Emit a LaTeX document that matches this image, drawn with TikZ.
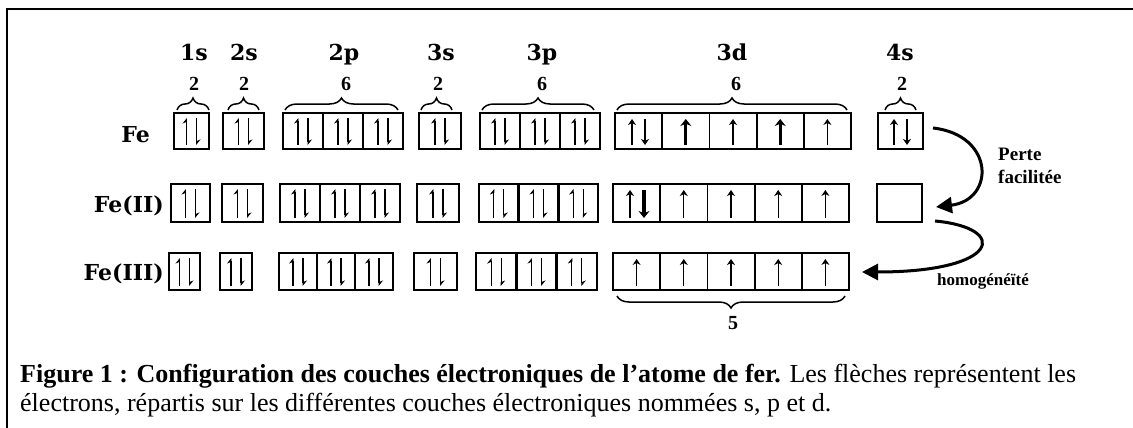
\documentclass[tikz,border=0pt]{standalone}
\usepackage{fontspec}
\setmainfont{Liberation Serif}
\newfontfamily\lblfont{DejaVu Serif}
\usetikzlibrary{arrows.meta,decorations.pathreplacing}

\tikzset{
 box/.style={line width=1.8pt},
 hp/.style={line width=1.3pt,-{Stealth[left,length=5pt,width=8pt]}},
 fa/.style={line width=1.3pt,-{Stealth[length=6pt,width=8pt]}},
 fathick/.style={line width=3.2pt,-{Stealth[length=7pt,width=11pt]}},
 hdr/.style={font=\lblfont\bfseries\fontsize{22}{24}\selectfont, anchor=base, inner sep=0pt},
 cnt/.style={font=\bfseries\fontsize{20}{22}\selectfont, anchor=base, inner sep=0pt},
 rowlbl/.style={font=\lblfont\bfseries\fontsize{22}{24}\selectfont, anchor=base east, inner sep=0pt},
 brc/.style={decorate, decoration={brace, amplitude=12pt}, line width=1.5pt},
 bigarrow/.style={line width=3pt, -{Triangle[length=16pt,width=16pt]}},
 side/.style={font=\bfseries\fontsize{19}{21}\selectfont, anchor=base west, inner sep=0pt},
 capt/.style={font=\fontsize{26}{29}\selectfont, anchor=base west, inner sep=0pt},
}

% box of #3 cells from x #1 to #2, y #4 (top) to #5 (bottom), each with a harpoon pair
\newcommand{\orbpairs}[5]{%
 \draw[box] (#1,#4) rectangle (#2,#5);
 \foreach \k in {1,...,#3}{%
   \pgfmathsetmacro{\cx}{#1+(\k-0.5)*(#2-#1)/#3}
   \pgfmathsetmacro{\dx}{#1+\k*(#2-#1)/#3}
   \ifnum\k<#3 \draw[box,line width=2.6pt] (\dx,#4) -- (\dx,#5);\fi
   \draw[hp] (\cx-5,#5-4) -- (\cx-5,#4+5);
   \draw[hp] (\cx+5,#4+5) -- (\cx+5,#5-4);
 }}
% five-cell d box
\newcommand{\dbox}[4]{%
 \draw[box] (#1,#3) rectangle (#2,#4);
 \foreach \k in {1,...,4}{%
   \pgfmathsetmacro{\dx}{#1+\k*(#2-#1)/5}
   \draw[box] (\dx,#3) -- (\dx,#4);
 }}

\begin{document}
\begin{tikzpicture}[x=1pt,y=-1pt]
\useasboundingbox (0,0) rectangle (1133,428);
\fill[white] (0,0) rectangle (1133,428);
\draw[line width=2pt] (7,428) -- (7,9) -- (1133,9);

% headers
\node[hdr] (h1s) at (194,60) {1s};
\node[hdr] (h2s) at (244,60) {2s};
\node[hdr] (h2p) at (344,60) {2p};
\node[hdr] (h3s) at (441,60) {3s};
\node[hdr] (h3p) at (542,60) {3p};
\node[hdr] (h3d) at (732,60) {3d};
\node[hdr] (h4s) at (900,60) {4s};

% counts
\node[cnt] (n1s) at (194,91) {2};
\node[cnt] (n2s) at (244,91) {2};
\node[cnt] (n2p) at (346,91) {6};
\node[cnt] (n3s) at (438,91) {2};
\node[cnt] (n3p) at (542,91) {6};
\node[cnt] (n3d) at (736,91) {6};
\node[cnt] (n4s) at (902,91) {2};

% braces
\draw[brc] (177,110) -- (209,110);
\draw[brc] (228,110) -- (259,110);
\draw[brc] (285,110) -- (398,110);
\draw[brc] (421,110) -- (452,110);
\draw[brc] (482,110) -- (594,110);
\draw[brc] (617,110) -- (847,110);
\draw[brc] (885,110) -- (916,110);

% row labels
\node[rowlbl] (lFe) at (150,142) {Fe};
\node[rowlbl] (lFeII) at (164,212) {Fe(II)};
\node[rowlbl] (lFeIII) at (164,280) {Fe(III)};

% Fe row
\orbpairs{174}{209}{1}{113}{149}
\orbpairs{223}{264}{1}{113}{149}
\orbpairs{283}{403}{3}{113}{149}
\orbpairs{419}{461}{1}{113}{149}
\orbpairs{480}{600}{3}{113}{149}
\dbox{615}{851}{113}{149}
\draw[fa] (632,145) -- (632,119);
\draw[fa] (645,119) -- (645,145);
\draw[fathick] (685.8,145) -- (685.8,119);
\draw[fa] (733,145) -- (733,119);
\draw[fathick] (780.2,145) -- (780.2,119);
\draw[fa] (827.4,145) -- (827.4,119);
\draw[box] (878,113) rectangle (923,149);
\draw[fa] (894,145) -- (894,119);
\draw[fa] (907,119) -- (907,145);

% Fe(II) row
\orbpairs{171}{210}{1}{184}{222}
\orbpairs{222}{263}{1}{184}{222}
\orbpairs{280}{400}{3}{184}{222}
\orbpairs{417}{459}{1}{184}{222}
\orbpairs{479}{598}{3}{184}{222}
\dbox{613}{849}{184}{222}
\draw[fa] (630,218) -- (630,190);
\draw[fathick] (644,190) -- (644,218);
\draw[fa] (683.8,218) -- (683.8,190);
\draw[fa] (731,218) -- (731,190);
\draw[fa] (778.2,218) -- (778.2,190);
\draw[fa] (825.4,218) -- (825.4,190);
\draw[box] (877,184) rectangle (922,222);

% Fe(III) row
\orbpairs{169}{200}{1}{253}{290}
\orbpairs{220}{252}{1}{253}{290}
\orbpairs{279}{393}{3}{253}{290}
\orbpairs{414}{457}{1}{253}{290}
\orbpairs{476}{597}{3}{253}{290}
\dbox{613}{849}{253}{290}
\foreach \cx in {636.6,683.8,731,778.2,825.4}{
  \draw[fa] (\cx,286) -- (\cx,259);
}

% bottom brace
\draw[brc] (845,296) -- (617,296);
\node[cnt] (n5) at (733,329) {5};

% curved arrows
\coordinate (pA) at (933,128);
\coordinate (pB) at (936,207);
\coordinate (hA) at (935,221);
\coordinate (hB) at (862,272);
\draw[bigarrow] (pA) .. controls (995,135) and (995,200) .. (pB);
\draw[bigarrow] (hA) .. controls (1010,228) and (1000,272) .. (hB);

\node[side] (perte) at (998,160) {Perte};
\node[side] (facil) at (998,183) {facilitée};
\node[font=\bfseries\fontsize{17}{19}\selectfont, anchor=base, inner sep=0pt] (homog) at (983,285) {homogénéïté};

% caption
\node[capt] (cap1) at (20,382) {\textbf{Figure 1 : Configuration des couches électroniques de l’atome de fer.} Les flèches représentent les};
\node[capt] (cap2) at (20,411) {électrons, répartis sur les différentes couches électroniques nommées s, p et d.};
\end{tikzpicture}
\end{document}
